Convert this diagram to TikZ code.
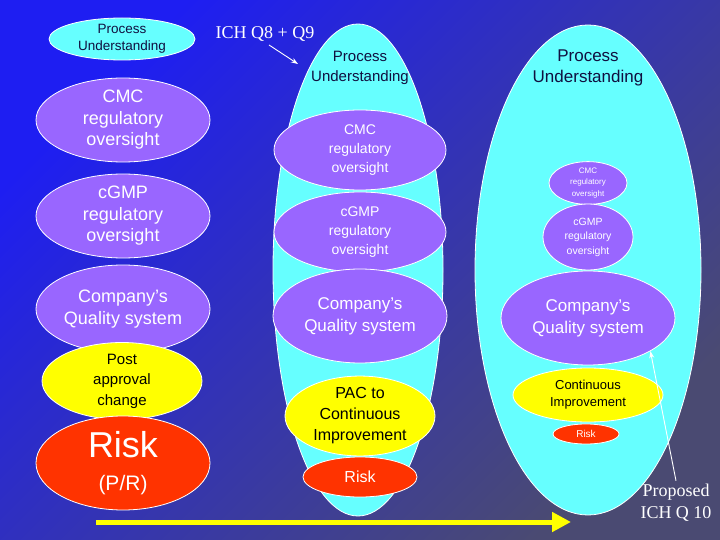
\documentclass[tikz,border=0pt]{standalone}
\usepackage{fontspec}
\setmainfont{Liberation Sans}
\newfontfamily\timesfont{Liberation Serif}
\usetikzlibrary{arrows.meta,positioning,shapes.geometric}
\definecolor{bgtop}{HTML}{1E1EF2}
\definecolor{bgmid}{HTML}{3434C2}
\definecolor{bgbot}{HTML}{4A4A72}
\definecolor{pucyan}{HTML}{66FFFF}
\definecolor{regviolet}{HTML}{9966FF}
\definecolor{paryellow}{HTML}{FFFF00}
\definecolor{riskred}{HTML}{FF3300}
\definecolor{navytext}{HTML}{101040}
\newcommand{\txtsz}[2]{\fontsize{#1}{#2}\selectfont}

\begin{document}
\begin{tikzpicture}[x=1pt, y=-1pt,
  every node/.style={align=center},
  blob/.style={ellipse, draw=white, line width=0.8pt, inner sep=0pt},
  pu/.style={blob, fill=pucyan, text=navytext},
  reg/.style={blob, fill=regviolet, text=white},
  chg/.style={blob, fill=paryellow, text=black},
  risk/.style={blob, fill=riskred, text=white},
  stage/.style={blob, fill=pucyan},
  note/.style={text=white, font=\timesfont\txtsz{18}{22}},
  pointer/.style={->, >={Stealth[length=7pt,width=5pt]}, draw=white, line width=0.9pt}
]

% background
\shade[top color=bgtop, middle color=bgmid, bottom color=bgbot, shading angle=45]
  (0,0) rectangle (720,540);
\useasboundingbox (0,0) rectangle (720,540);

% left column: today
\node[pu, minimum width=146pt, minimum height=42pt, font=\txtsz{13.5}{17}] (lpu) at (122,39) {Process\\Understanding};
\node[reg, minimum width=174pt, minimum height=84pt, font=\txtsz{18}{21.5}] (lcmc) at (123,120) {CMC\\regulatory\\oversight};
\node[reg, minimum width=174pt, minimum height=84pt, font=\txtsz{18}{21.5}] (lgmp) at (123,216) {cGMP\\regulatory\\oversight};
\node[reg, minimum width=174pt, minimum height=88pt, font=\txtsz{18}{22}] (lqs) at (123,309) {Company’s\\Quality system};
\node[chg, minimum width=160pt, minimum height=66pt, font=\txtsz{15}{20.5}] (lpac) at (122,381) {Post\\approval\\change};
\node[risk, minimum width=174pt, minimum height=94pt, font=\txtsz{36}{33}] (lrisk) at (123,463)
  {Risk\\\txtsz{21}{33}(P/R)};

% middle column: ICH Q8 + Q9
\node[stage, minimum width=170pt, minimum height=492pt] (mstage) at (358,270) {};
\node[text=navytext, font=\txtsz{15}{19.5}] (mpu) at (360,68) {Process\\Understanding};
\node[reg, minimum width=172pt, minimum height=80pt, font=\txtsz{14}{19}] (mcmc) at (360,150) {CMC\\regulatory\\oversight};
\node[reg, minimum width=172pt, minimum height=80pt, font=\txtsz{14}{19}] (mgmp) at (360,232) {cGMP\\regulatory\\oversight};
\node[reg, minimum width=174pt, minimum height=94pt, font=\txtsz{17}{22}] (mqs) at (360,316) {Company’s\\Quality system};
\node[chg, minimum width=150pt, minimum height=76pt, font=\txtsz{16}{21}] (mpac) at (360,416) {PAC to\\Continuous\\Improvement};
\node[risk, minimum width=114pt, minimum height=40pt, font=\txtsz{16}{19}] (mrisk) at (360,477) {Risk};

% right column: proposed ICH Q10
\node[stage, minimum width=226pt, minimum height=490pt] (rstage) at (588,270) {};
\node[text=navytext, font=\txtsz{17}{21}] (rpu) at (588,68) {Process\\Understanding};
\node[reg, minimum width=78pt, minimum height=40pt, font=\txtsz{8}{11.5}] (rcmc) at (588,183) {CMC\\regulatory\\oversight};
\node[reg, minimum width=90pt, minimum height=66pt, font=\txtsz{10.5}{14.5}] (rgmp) at (588,237) {cGMP\\regulatory\\oversight};
\node[reg, minimum width=174pt, minimum height=94pt, font=\txtsz{17}{22}] (rqs) at (588,318) {Company’s\\Quality system};
\node[chg, minimum width=150pt, minimum height=54pt, font=\txtsz{13}{17}] (rci) at (588,395) {Continuous\\Improvement};
\node[risk, minimum width=66pt, minimum height=20pt, font=\txtsz{10}{12}] (rrisk) at (586,434) {Risk};

% labels and pointers
\node[note] (ich) at (265,34) {ICH Q8 + Q9};
\coordinate (ichtip) at (298,64);
\draw[pointer] ([xshift=4pt]ich.south) -- (ichtip);

\node[note] (q10) at (676,503) {Proposed\\ICH Q 10};
\draw[pointer] (q10.north) -- (rqs.-28);

% time arrow
\coordinate (tstart) at (96,522);
\coordinate (tend) at (571,522);
\draw[paryellow, line width=5pt, -{Triangle[length=19pt,width=19pt]}] (tstart) -- (tend);

\end{tikzpicture}
\end{document}
